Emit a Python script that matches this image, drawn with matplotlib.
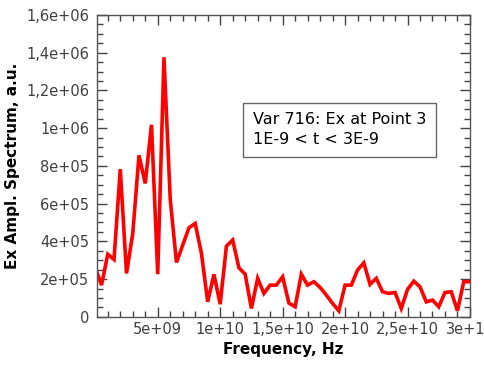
import numpy as np
import matplotlib
matplotlib.use("Agg")
import matplotlib.pyplot as plt
from matplotlib.ticker import MultipleLocator, FuncFormatter

# ── data ──────────────────────────────────────────────────────────────────────
freq_step = 5e8
amplitude = [
    2.6e5, 1.68e5, 3.32e5, 3.04e5, 7.83e5, 2.30e5, 4.42e5, 8.56e5, 7.07e5, 1.018e6,
    2.26e5, 1.376e6, 6.24e5, 2.88e5, 3.8e5, 4.72e5, 4.95e5, 3.36e5, 7.95e4, 2.25e5,
    6.7e4, 3.75e5, 4.07e5, 2.6e5, 2.26e5, 4.45e4, 2.04e5, 1.24e5, 1.68e5, 1.68e5,
    2.12e5, 7.3e4, 5.3e4, 2.26e5, 1.68e5, 1.86e5, 1.56e5, 1.15e5, 7.1e4, 3.2e4,
    1.68e5, 1.68e5, 2.48e5, 2.86e5, 1.72e5, 2.04e5, 1.33e5, 1.24e5, 1.29e5, 4.45e4,
    1.45e5, 1.89e5, 1.59e5, 7.95e4, 8.86e4, 5.3e4, 1.29e5, 1.33e5, 3.2e4, 1.86e5,
    1.86e5,
]
frequency = np.arange(len(amplitude)) * freq_step

legend_lines = ["Var 716: Ex at Point 3", "1E-9 < t < 3E-9"]


def sci_comma(v, pos):
    if v == 0:
        return "0"
    s = f"{v:.1e}"
    mant, exp = s.split("e")
    mant = mant.rstrip("0").rstrip(".")
    return mant.replace(".", ",") + "e" + exp


# ── plot ──────────────────────────────────────────────────────────────────────
fig = plt.figure(figsize=(4.84, 3.65), dpi=100)
ax = fig.add_axes([0.201, 0.132, 0.770, 0.827])

ax.plot(frequency, amplitude, color="#ff0000", lw=2.6, solid_joinstyle="miter")

ax.set_xlim(1.6e8, 3e10)
ax.set_ylim(0, 1.6e6)

ax.xaxis.set_major_locator(MultipleLocator(5e9))
ax.xaxis.set_minor_locator(MultipleLocator(1e9))
ax.yaxis.set_major_locator(MultipleLocator(2e5))
ax.yaxis.set_minor_locator(MultipleLocator(5e4))
ax.xaxis.set_major_formatter(FuncFormatter(sci_comma))
ax.yaxis.set_major_formatter(FuncFormatter(sci_comma))

ax.tick_params(which="both", direction="in", top=True, right=True,
               color="#444444", width=1.0, labelsize=10.5, labelcolor="#404040")
ax.tick_params(which="major", length=7.5)
ax.tick_params(axis="y", which="major", pad=6)
ax.tick_params(axis="x", which="major", pad=4)
ax.tick_params(which="minor", length=4)
for sp in ax.spines.values():
    sp.set_color("#555555")
    sp.set_linewidth(1.0)

ax.set_xlabel("Frequency, Hz", fontsize=11, fontweight="bold", labelpad=3)
ax.set_ylabel("Ex Ampl. Spectrum, a.u.", fontsize=11, fontweight="bold", labelpad=4)

ax.text(0.418, 0.62, "\n".join(legend_lines), transform=ax.transAxes,
        fontsize=11.5, va="center", ha="left", linespacing=1.4,
        bbox=dict(boxstyle="square,pad=0.6", fc="white", ec="#666666", lw=1.0))

fig.savefig("out.png", dpi=100)
